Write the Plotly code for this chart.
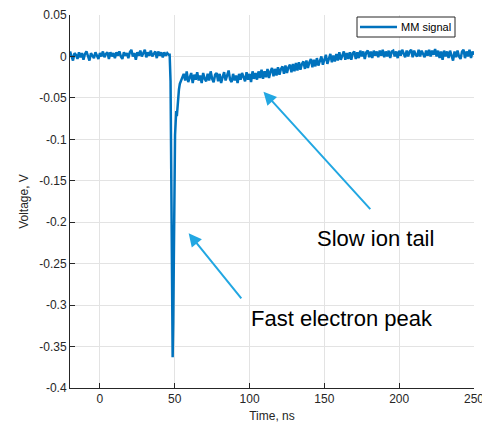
import plotly.graph_objects as go

# ---- data ----
baseline_start_ns = -20
baseline_V = [0.006, 0.001, -0.005, 0.004, 0.002, -0.003, 0.005, -0.001, 0.004, -0.004,
              0.003, 0.006, 0.000, -0.005, 0.004, 0.001, -0.002, 0.005, 0.001, -0.003,
              0.004, 0.000, 0.006, -0.001, 0.003, 0.005, -0.003, 0.005, 0.000, 0.004,
              -0.002, 0.005, 0.001, 0.006, 0.000, -0.003, 0.005, 0.001, 0.004, -0.002,
              0.005, 0.008, 0.000, 0.004, -0.004, 0.005, 0.001, 0.007, 0.000, 0.004,
              0.008, -0.001, 0.005, 0.001, 0.007, 0.000, 0.004, 0.006, -0.002, 0.006,
              0.001, 0.005, -0.001, 0.005, 0.001, 0.004, 0.002]

peak_ns = [46.6, 47.2, 47.7, 48.2, 48.6, 49.0, 49.4, 49.8, 50.2, 50.6, 51.0, 51.4,
           51.8, 52.3, 52.8, 53.4, 54.0, 55.0]
peak_V = [0.002, -0.03, -0.15, -0.30, -0.363, -0.32, -0.22, -0.14, -0.095, -0.080,
          -0.066, -0.072, -0.060, -0.048, -0.040, -0.033, -0.030, -0.027]

tail_start_ns = 56
tail_V = [-0.021, -0.029, -0.018, -0.031, -0.024, -0.020, -0.032, -0.022, -0.028, -0.019,
          -0.029, -0.023, -0.032, -0.020, -0.027, -0.030, -0.021, -0.029, -0.018, -0.027,
          -0.031, -0.022, -0.020, -0.030, -0.021, -0.032, -0.025, -0.019, -0.029, -0.023,
          -0.017, -0.028, -0.031, -0.021, -0.029, -0.023, -0.032, -0.021, -0.028, -0.020,
          -0.024, -0.030, -0.019, -0.028, -0.021, -0.031, -0.018, -0.027, -0.020, -0.028,
          -0.018, -0.026, -0.016, -0.027, -0.018, -0.025, -0.015, -0.026, -0.018, -0.014,
          -0.024, -0.015, -0.023, -0.013, -0.022, -0.015, -0.012, -0.021, -0.011, -0.020,
          -0.013, -0.010, -0.019, -0.009, -0.018, -0.008, -0.017, -0.007, -0.016, -0.009,
          -0.006, -0.015, -0.005, -0.014, -0.007, -0.003, -0.013, -0.004, -0.012, -0.002,
          -0.011, -0.004, 0.000, -0.010, -0.002, 0.002, -0.009, -0.001, 0.003, -0.007,
          0.001, -0.006, 0.003, -0.005, 0.005, -0.004, 0.001, 0.006, -0.004, 0.004,
          -0.003, 0.005, -0.004, 0.004, 0.006, -0.003, 0.005, -0.002, 0.007, 0.000,
          0.006, -0.003, 0.005, 0.007, -0.001, 0.006, -0.002, 0.007, 0.001, 0.006,
          -0.001, 0.007, 0.001, 0.008, -0.001, 0.006, 0.000, 0.007, -0.002, 0.006,
          0.007, 0.000, 0.006, -0.002, 0.007, 0.001, 0.008, 0.002, -0.001, 0.007,
          0.000, 0.006, 0.008, -0.001, 0.007, 0.002, 0.000, 0.008, 0.000, 0.007,
          0.002, -0.001, 0.007, 0.001, 0.008, 0.000, 0.007, 0.002, 0.009, 0.000,
          0.007, -0.002, 0.006, -0.004, 0.007, 0.000, 0.006, -0.002, 0.007, 0.000,
          -0.005, 0.006, -0.001, 0.007, 0.000, -0.003, 0.006, 0.008, -0.002, 0.006,
          0.000, 0.008, -0.002, 0.006, 0.002]

x_ticks = [0, 50, 100, 150, 200, 250]
y_ticks = [-0.4, -0.35, -0.3, -0.25, -0.2, -0.15, -0.1, -0.05, 0, 0.05]
y_tick_labels = ["-0.4", "-0.35", "-0.3", "-0.25", "-0.2", "-0.15", "-0.1", "-0.05", "0", "0.05"]
series_name = "MM signal"

# ---- assemble series ----
time_ns = ([baseline_start_ns + i for i in range(len(baseline_V))]
           + peak_ns
           + [tail_start_ns + i for i in range(len(tail_V))])
volt = baseline_V + peak_V + tail_V

FONT = "Arial, Liberation Sans, sans-serif"
TXT = "#262626"
ARROW = "#22A7E2"
LINE = "#0072BD"

fig = go.Figure()
fig.add_trace(go.Scatter(x=time_ns, y=volt, mode="lines", name=series_name,
                         line=dict(color=LINE, width=2.5), showlegend=False))

axis_common = dict(showline=True, linecolor=TXT, linewidth=1, mirror=False,
                   ticks="inside", ticklen=5, tickcolor=TXT, tickwidth=1,
                   showgrid=True, gridcolor="#e3e3e3", gridwidth=1, zeroline=False,
                   tickfont=dict(family=FONT, size=12, color=TXT))

fig.update_xaxes(range=[-20, 250], tickvals=x_ticks,
                 title=dict(text="Time, ns", font=dict(family=FONT, size=12, color=TXT), standoff=6),
                 **axis_common)
fig.update_yaxes(range=[-0.4, 0.05], tickvals=y_ticks, ticktext=y_tick_labels,
                 title=dict(text="Voltage, V", font=dict(family=FONT, size=12, color=TXT), standoff=8),
                 **axis_common)

# legend box (MATLAB style)
fig.add_shape(type="rect", xref="paper", yref="paper", x0=0.7104, x1=0.953, y0=0.941, y1=0.9946,
              line=dict(color="#262626", width=1), fillcolor="white", layer="above")
fig.add_shape(type="line", xref="paper", yref="paper", x0=0.7178, x1=0.8094, y0=0.9678, y1=0.9678,
              line=dict(color=LINE, width=2.5), layer="above")
fig.add_annotation(x=0.8144, y=0.9678, xref="paper", yref="paper", text=series_name,
                   showarrow=False, xanchor="left", yanchor="middle",
                   font=dict(family=FONT, size=11, color="#000000"))

# arrows
fig.add_annotation(x=109.3, y=-0.0425, ax=181.6, ay=-0.186, xref="x", yref="y",
                   axref="x", ayref="y", text="", showarrow=True, arrowhead=2,
                   arrowsize=1.3, arrowwidth=2, arrowcolor=ARROW)
fig.add_annotation(x=59.3, y=-0.2133, ax=95.3, ay=-0.2938, xref="x", yref="y",
                   axref="x", ayref="y", text="", showarrow=True, arrowhead=2,
                   arrowsize=1.3, arrowwidth=2, arrowcolor=ARROW)
fig.add_annotation(x=143.8, y=-0.2194, xref="x", yref="y", text="Slow ion tail",
                   showarrow=False, xanchor="left", yanchor="middle",
                   font=dict(family=FONT, size=22, color="#000000"))
fig.add_annotation(x=99.3, y=-0.3159, xref="x", yref="y", text="Fast electron peak",
                   showarrow=False, xanchor="left", yanchor="middle",
                   font=dict(family=FONT, size=22, color="#000000"))

fig.update_layout(
    width=482, height=419,
    margin=dict(l=62, r=16, t=7, b=39, autoexpand=False),
    paper_bgcolor="white", plot_bgcolor="white",
    showlegend=False,
    font=dict(family=FONT, color=TXT),
)

fig.write_html("out.html")
